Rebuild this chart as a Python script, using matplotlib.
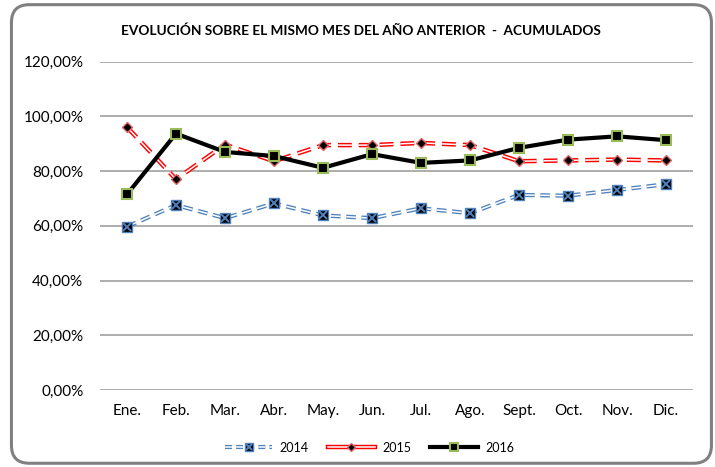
import matplotlib
matplotlib.use("Agg")
import matplotlib.pyplot as plt
from matplotlib.patches import FancyBboxPatch
from matplotlib.legend_handler import HandlerTuple
from matplotlib.ticker import FuncFormatter

plt.rcParams['font.family'] = ['Lato', 'DejaVu Sans']
plt.rcParams['lines.scale_dashes'] = False

# datos
meses = ['Ene.', 'Feb.', 'Mar.', 'Abr.', 'May.', 'Jun.', 'Jul.', 'Ago.',
         'Sept.', 'Oct.', 'Nov.', 'Dic.']
v2014 = [59.7, 67.6, 62.8, 68.2, 63.8, 62.8, 66.4, 64.6, 71.3, 71.0, 73.1, 75.2]
v2015 = [96.1, 77.0, 89.7, 83.6, 89.5, 89.5, 90.3, 89.5, 83.6, 83.9, 84.2, 83.9]
v2016 = [71.5, 93.7, 87.0, 85.5, 81.2, 86.2, 83.0, 83.9, 88.5, 91.5, 92.7, 91.3]

fig = plt.figure(figsize=(7.15, 4.67), dpi=100)
ax = fig.add_axes([0.1399, 0.1649, 0.8293, 0.7031])

x = range(len(meses))

# 2014: doble linea azul discontinua
dash = (0, (7, 4))
ax.plot(x, v2014, color='#4F81BD', lw=3.0, linestyle=dash, dash_capstyle='butt', zorder=3)
ax.plot(x, v2014, color='white', lw=1.1, linestyle=dash, dash_capstyle='butt', zorder=3)
ax.plot(x, v2014, ls='none', marker='s', ms=6.5, mfc='black', mec='#4F81BD', mew=1, zorder=5)
ax.plot(x, v2014, ls='none', marker='x', ms=5.5, mec='#4F81BD', mew=1.4, zorder=6)

# 2015: doble linea roja discontinua
dash2 = (0, (10, 5))
ax.plot(x, v2015, color='#FF0000', lw=3.2, linestyle=dash2, dash_capstyle='butt', zorder=3)
ax.plot(x, v2015, color='white', lw=1.1, linestyle=dash2, dash_capstyle='butt', zorder=3)
ax.plot(x, v2015, ls='none', marker='D', ms=5.5, mfc='black', mec='#E06666', mew=1, zorder=5)

# 2016: linea negra
ax.plot(x, v2016, color='black', lw=3, zorder=4)
ax.plot(x, v2016, ls='none', marker='s', ms=7, mfc='black', mec='#9BBB59', mew=1.5, zorder=6)

ax.set_xlim(-0.55, len(meses) - 0.45)
ax.set_ylim(0, 120)
ax.set_yticks(range(0, 121, 20))
ax.yaxis.set_major_formatter(FuncFormatter(lambda v, p: f'{v:.2f}%'.replace('.', ',')))
ax.set_xticks(list(x))
ax.set_xticklabels(meses)
ax.tick_params(axis='y', length=0, pad=12, labelsize=11)
ax.tick_params(axis='x', length=0, pad=10, labelsize=11)
ax.grid(axis='y', color='#A0A0A0', lw=1.2)
ax.set_axisbelow(True)
for s in ax.spines.values():
    s.set_visible(False)

fig.text(0.505, 0.935, 'EVOLUCIÓN SOBRE EL MISMO MES DEL AÑO ANTERIOR  -  ACUMULADOS',
         ha='center', va='center', fontsize=9.8, fontweight='bold')

# leyenda
h14 = (plt.Line2D([], [], color='#4F81BD', lw=3.0, ls=(0, (5, 3)), dash_capstyle='butt'),
       plt.Line2D([], [], color='white', lw=1.1, ls=(0, (5, 3)), dash_capstyle='butt'),
       plt.Line2D([], [], ls='none', marker='s', ms=6, mfc='black', mec='#4F81BD'),
       plt.Line2D([], [], ls='none', marker='x', ms=5, mec='#4F81BD', mew=1.4))
h15 = (plt.Line2D([], [], color='#FF0000', lw=3.2),
       plt.Line2D([], [], color='white', lw=1.1),
       plt.Line2D([], [], ls='none', marker='D', ms=4.5, mfc='black', mec='#E06666'))
h16 = (plt.Line2D([], [], color='black', lw=3),
       plt.Line2D([], [], ls='none', marker='s', ms=6, mfc='black', mec='#9BBB59', mew=1.5))
fig.legend([h14, h15, h16], ['2014', '2015', '2016'],
           handler_map={tuple: HandlerTuple(ndivide=1, pad=0)},
           loc='center', bbox_to_anchor=(0.517, 0.041), ncol=3, frameon=False,
           fontsize=9, handlelength=3.8, columnspacing=1.5, handletextpad=0.6)

# marco redondeado
marco = FancyBboxPatch((0.016, 0.008), 0.979, 0.982,
                       boxstyle='round,pad=0,rounding_size=0.025',
                       transform=fig.transFigure, fill=False,
                       edgecolor='#808080', lw=2.2, mutation_aspect=715 / 467)
fig.patches.append(marco)

fig.savefig('out.png', dpi=100)
